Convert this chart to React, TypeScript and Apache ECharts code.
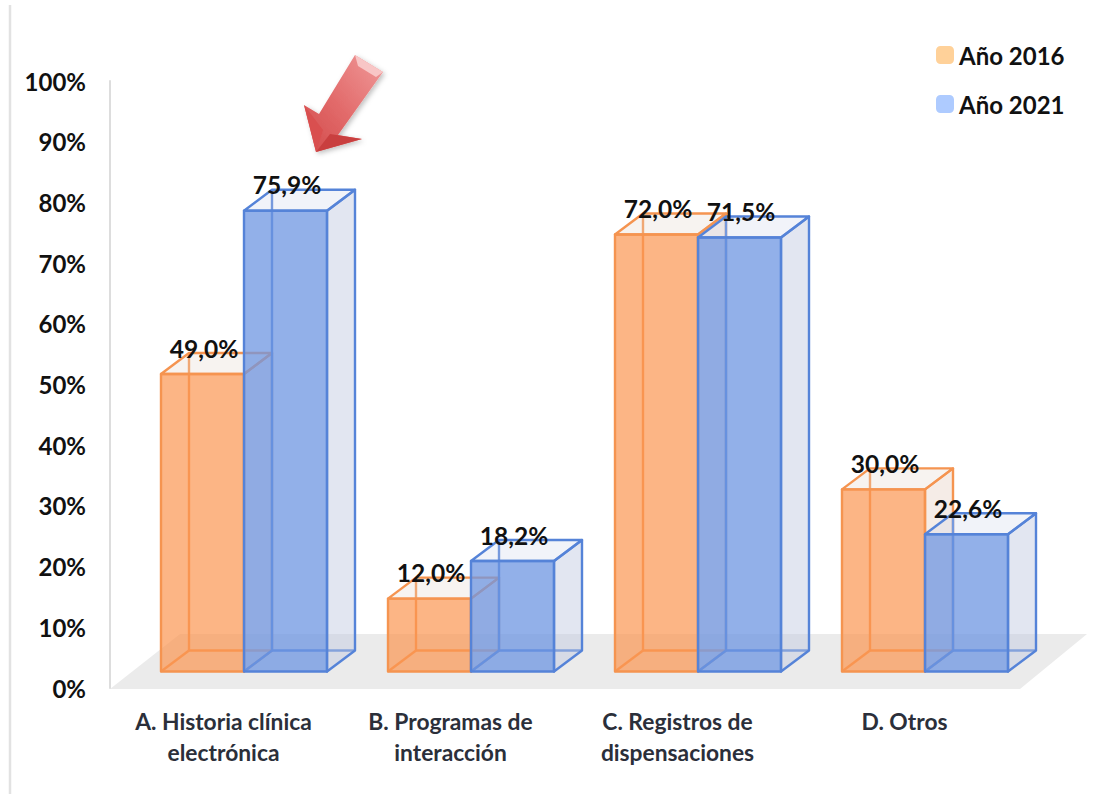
import React, { useEffect, useRef } from "react";
import * as echarts from "echarts";

const categories = [
  "A. Historia clínica\nelectrónica",
  "B. Programas de\ninteracción",
  "C. Registros de\ndispensaciones",
  "D. Otros",
];
const yearLabels = ["Año 2016", "Año 2021"];
const values2016 = [49.0, 12.0, 72.0, 30.0];
const values2021 = [75.9, 18.2, 71.5, 22.6];

const FONT = "Lato, 'Open Sans', sans-serif";
const BAR_W = 83;
const DX = 28;
const DY = -21;
const BASE_LIFT = 16.5;

type Look = { stroke: string; front: string; side: string; top: string; offset: number };
const look2016: Look = {
  stroke: "#F59450",
  front: "rgba(251,149,81,0.7)",
  side: "rgba(225,200,185,0.35)",
  top: "rgba(230,215,205,0.3)",
  offset: -62.5,
};
const look2021: Look = {
  stroke: "#5583D8",
  front: "rgba(110,150,225,0.75)",
  side: "rgba(190,200,225,0.45)",
  top: "rgba(205,212,232,0.28)",
  offset: 20.5,
};

function box(look: Look) {
  return (_params: any, api: any) => {
    const idx = api.value(0);
    const val = api.value(1);
    const topPt = api.coord([idx, val]);
    const zeroPt = api.coord([idx, 0]);
    const x0 = topPt[0] + look.offset;
    const x1 = x0 + BAR_W;
    const yT = topPt[1] - BASE_LIFT;
    const yB = zeroPt[1] - BASE_LIFT;
    const stroke = { stroke: look.stroke, lineWidth: 2.4, lineJoin: "round" };
    const poly = (points: number[][], fill: string) => ({
      type: "polygon",
      shape: { points },
      style: { fill, ...stroke },
    });
    const line = (a: number[], b: number[]) => ({
      type: "line",
      shape: { x1: a[0], y1: a[1], x2: b[0], y2: b[1] },
      style: { fill: "none", ...stroke },
    });
    return {
      type: "group",
      children: [
        line([x0 + DX, yT + DY], [x0 + DX, yB + DY]),
        line([x0 + DX, yB + DY], [x1 + DX, yB + DY]),
        line([x0, yB], [x0 + DX, yB + DY]),
        poly([[x1, yT], [x1 + DX, yT + DY], [x1 + DX, yB + DY], [x1, yB]], look.side),
        poly([[x0, yT], [x0 + DX, yT + DY], [x1 + DX, yT + DY], [x1, yT]], look.top),
        poly([[x0, yT], [x1, yT], [x1, yB], [x0, yB]], look.front),
        {
          type: "text",
          z2: 100,
          style: {
            text: val.toFixed(1).replace(".", ",") + "%",
            x: x0 + 43,
            y: yT - 26,
            align: "center",
            verticalAlign: "middle",
            fill: "#111",
            font: `700 24.5px ${FONT}`,
          },
        },
      ],
    };
  };
}

const arrowBody = [
  [355, 55], [383, 72], [338, 135], [362, 139], [316, 152], [304, 105], [319, 114],
];

export default function App() {
  const ref = useRef<HTMLDivElement>(null);
  useEffect(() => {
    document.body.style.margin = "0";
    document.body.style.background = "#fff";
    const chart = echarts.init(ref.current!, null, { renderer: "svg" });
    const series = (name: string, vals: number[], look: Look, legendColor: string) => ({
      type: "custom",
      name,
      clip: false,
      coordinateSystem: "cartesian2d",
      encode: { x: 0, y: 1 },
      itemStyle: { color: legendColor },
      data: vals.map((v, i) => [i, v]),
      renderItem: box(look),
    });
    chart.setOption({
      animation: false,
      backgroundColor: "#fff",
      grid: { left: 110, top: 81, width: 908, height: 607, containLabel: false },
      legend: {
        left: 931,
        top: 37,
        orient: "vertical",
        itemWidth: 18,
        itemHeight: 18,
        itemGap: 23,
        data: [
          { name: yearLabels[0], icon: "roundRect", itemStyle: { color: "#FFD199" } },
          { name: yearLabels[1], icon: "roundRect", itemStyle: { color: "#AECBFF" } },
        ],
        textStyle: { color: "#111", fontFamily: FONT, fontWeight: 700, fontSize: 24, lineHeight: 26, padding: [0, 0, 0, 0] },
      },
      xAxis: {
        type: "category",
        data: categories,
        axisLine: { show: false },
        axisTick: { show: false },
        axisLabel: { interval: 0, margin: 17, color: "#2B2F3A", fontFamily: FONT, fontWeight: 700, fontSize: 22.8, lineHeight: 31 },
      },
      yAxis: {
        type: "value",
        min: 0,
        max: 100,
        interval: 10,
        splitLine: { show: false },
        axisTick: { show: false },
        axisLine: { show: true, lineStyle: { color: "#DDDDDD", width: 2 } },
        axisLabel: { margin: 24, formatter: "{value}%", color: "#111", fontFamily: FONT, fontWeight: 700, fontSize: 24 },
      },
      graphic: [
        { type: "line", shape: { x1: 10, y1: 5, x2: 10, y2: 794 }, style: { stroke: "#E2E2E2", lineWidth: 2.5 } },
        {
          type: "polygon",
          z: -1,
          shape: { points: [[110, 689], [1020, 689], [1087, 634], [180, 634]] },
          style: { fill: "#EBEBEB" },
        },
        {
          type: "polygon",
          z: 10,
          shape: { points: arrowBody },
          style: {
            fill: {
              type: "linear", x: 1, y: 0, x2: 0, y2: 1,
              colorStops: [
                { offset: 0, color: "#F09A9A" },
                { offset: 0.55, color: "#E26A6A" },
                { offset: 1, color: "#D24A4A" },
              ],
            },
            shadowBlur: 5,
            shadowColor: "rgba(0,0,0,0.25)",
            shadowOffsetX: 2,
            shadowOffsetY: 2,
          },
        },
        {
          type: "polygon",
          z: 11,
          shape: { points: [[355, 55], [383, 72], [376, 77], [358, 66]] },
          style: { fill: "#F8C6C6" },
        },
        {
          type: "polygon",
          z: 11,
          shape: { points: [[316, 152], [304, 105], [323, 130]] },
          style: { fill: "#D94F4F" },
        },
        {
          type: "polygon",
          z: 11,
          shape: { points: [[316, 152], [362, 139], [330, 134]] },
          style: { fill: "#C93F3F" },
        },
      ],
      series: [
        series(yearLabels[0], values2016, look2016, "#FFD199"),
        series(yearLabels[1], values2021, look2021, "#AECBFF"),
      ],
    });
    return () => chart.dispose();
  }, []);
  return <div ref={ref} style={{ position: "absolute", left: 0, top: 0, width: 1105, height: 794 }} />;
}
